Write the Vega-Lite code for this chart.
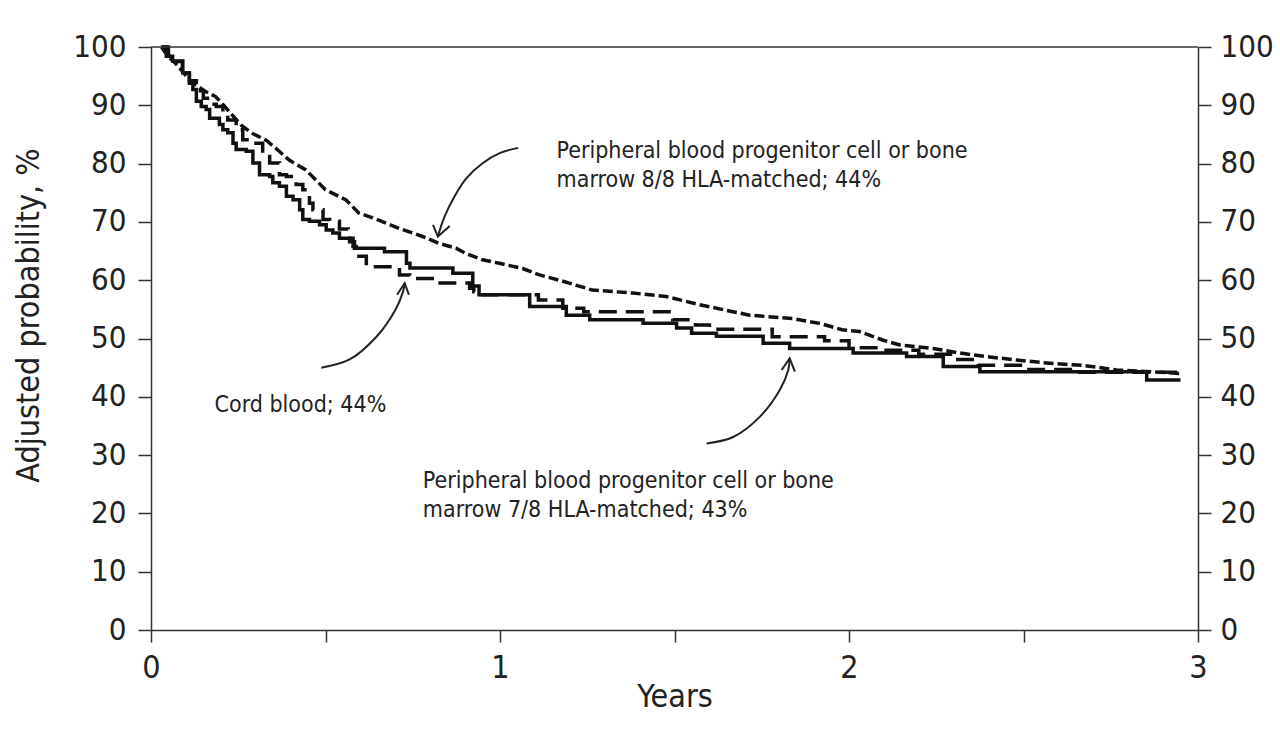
{
  "$schema": "https://vega.github.io/schema/vega-lite/v6.json",
  "width": 1047,
  "height": 583,
  "autosize": {"type": "none"},
  "padding": {"left": 151, "top": 47, "right": 82, "bottom": 112},
  "background": "white",
  "config": {
    "view": {"stroke": null},
    "font": "Liberation Sans Narrow, DejaVu Sans Condensed, Arial Narrow, sans-serif",
    "axis": {
      "grid": false,
      "domainColor": "#333",
      "domainWidth": 1.5,
      "tickColor": "#333",
      "tickWidth": 1.5,
      "labelColor": "#222",
      "labelFontSize": 31,
      "titleColor": "#222",
      "titleFontWeight": "normal",
      "labelOverlap": false,
      "labelFlush": false
    }
  },
  "datasets": {
    "s78": [
      {"t": 0.03, "p": 100}, {"t": 0.044, "p": 98.4}, {"t": 0.062, "p": 97.6}, {"t": 0.091, "p": 95.6},
      {"t": 0.11, "p": 93.8}, {"t": 0.12, "p": 92.7}, {"t": 0.13, "p": 90.7}, {"t": 0.144, "p": 89.8},
      {"t": 0.158, "p": 89.3}, {"t": 0.168, "p": 87.8}, {"t": 0.196, "p": 86.7}, {"t": 0.206, "p": 85.8},
      {"t": 0.22, "p": 85.3}, {"t": 0.235, "p": 83.5}, {"t": 0.244, "p": 82.4}, {"t": 0.273, "p": 82.1},
      {"t": 0.292, "p": 80.1}, {"t": 0.311, "p": 78.1}, {"t": 0.34, "p": 77.8}, {"t": 0.349, "p": 76.7},
      {"t": 0.368, "p": 76.1}, {"t": 0.388, "p": 74.4}, {"t": 0.407, "p": 73.8}, {"t": 0.426, "p": 72.1},
      {"t": 0.435, "p": 70.4}, {"t": 0.454, "p": 70.1}, {"t": 0.483, "p": 69.5}, {"t": 0.502, "p": 68.6},
      {"t": 0.521, "p": 68.1}, {"t": 0.54, "p": 67.2}, {"t": 0.569, "p": 66.6}, {"t": 0.583, "p": 65.5},
      {"t": 0.669, "p": 64.9}, {"t": 0.732, "p": 62.9}, {"t": 0.742, "p": 62.1}, {"t": 0.865, "p": 61.2},
      {"t": 0.922, "p": 59.0}, {"t": 0.94, "p": 57.5}, {"t": 1.085, "p": 55.5}, {"t": 1.19, "p": 54.0},
      {"t": 1.257, "p": 53.2}, {"t": 1.41, "p": 52.6}, {"t": 1.506, "p": 51.8}, {"t": 1.549, "p": 50.9},
      {"t": 1.62, "p": 50.4}, {"t": 1.754, "p": 49.2}, {"t": 1.83, "p": 48.3}, {"t": 2.012, "p": 47.5},
      {"t": 2.165, "p": 46.9}, {"t": 2.27, "p": 45.2}, {"t": 2.375, "p": 44.3}, {"t": 2.853, "p": 42.9},
      {"t": 2.95, "p": 42.9}
    ],
    "cord": [
      {"t": 0.03, "p": 100}, {"t": 0.05, "p": 98.5}, {"t": 0.07, "p": 97.5}, {"t": 0.09, "p": 95.8},
      {"t": 0.11, "p": 94.2}, {"t": 0.13, "p": 92.5}, {"t": 0.15, "p": 91.2}, {"t": 0.17, "p": 90.2},
      {"t": 0.187, "p": 89.8}, {"t": 0.206, "p": 88.4}, {"t": 0.22, "p": 87.5}, {"t": 0.244, "p": 85.8},
      {"t": 0.263, "p": 84.1}, {"t": 0.292, "p": 83.5}, {"t": 0.32, "p": 81.2}, {"t": 0.34, "p": 80.1},
      {"t": 0.368, "p": 78.1}, {"t": 0.388, "p": 77.8}, {"t": 0.416, "p": 76.4}, {"t": 0.435, "p": 75.5},
      {"t": 0.454, "p": 73.2}, {"t": 0.464, "p": 72.1}, {"t": 0.493, "p": 70.4}, {"t": 0.512, "p": 70.1},
      {"t": 0.54, "p": 68.8}, {"t": 0.565, "p": 67.2}, {"t": 0.579, "p": 65.8}, {"t": 0.588, "p": 64.1},
      {"t": 0.617, "p": 62.3}, {"t": 0.693, "p": 61.8}, {"t": 0.712, "p": 60.9}, {"t": 0.741, "p": 60.3},
      {"t": 0.818, "p": 59.5}, {"t": 0.913, "p": 58.6}, {"t": 0.925, "p": 58.0}, {"t": 0.95, "p": 57.5},
      {"t": 1.11, "p": 56.6}, {"t": 1.18, "p": 55.2}, {"t": 1.24, "p": 54.6}, {"t": 1.495, "p": 53.2},
      {"t": 1.56, "p": 52.3}, {"t": 1.6, "p": 51.6}, {"t": 1.78, "p": 50.3}, {"t": 1.93, "p": 49.6},
      {"t": 2.0, "p": 48.4}, {"t": 2.1, "p": 48.0}, {"t": 2.2, "p": 47.3}, {"t": 2.3, "p": 46.4},
      {"t": 2.37, "p": 45.4}, {"t": 2.5, "p": 44.7}, {"t": 2.65, "p": 44.2}, {"t": 2.95, "p": 44.0}
    ],
    "s88": [
      {"t": 0.03, "p": 100}, {"t": 0.05, "p": 98.3}, {"t": 0.07, "p": 97.2}, {"t": 0.09, "p": 95.8},
      {"t": 0.11, "p": 94.4}, {"t": 0.128, "p": 93.5}, {"t": 0.155, "p": 92.4}, {"t": 0.185, "p": 91.5},
      {"t": 0.21, "p": 89.9}, {"t": 0.233, "p": 88.3}, {"t": 0.26, "p": 86.5}, {"t": 0.29, "p": 85.2},
      {"t": 0.33, "p": 84.0}, {"t": 0.36, "p": 82.5}, {"t": 0.396, "p": 80.6}, {"t": 0.444, "p": 78.9},
      {"t": 0.5, "p": 75.5}, {"t": 0.558, "p": 73.8}, {"t": 0.596, "p": 71.5}, {"t": 0.635, "p": 70.7},
      {"t": 0.711, "p": 68.9}, {"t": 0.778, "p": 67.5}, {"t": 0.826, "p": 66.3}, {"t": 0.874, "p": 65.5},
      {"t": 0.902, "p": 64.6}, {"t": 0.95, "p": 63.5}, {"t": 0.998, "p": 62.9}, {"t": 1.065, "p": 62.0},
      {"t": 1.113, "p": 60.9}, {"t": 1.17, "p": 60.0}, {"t": 1.265, "p": 58.3}, {"t": 1.38, "p": 57.8},
      {"t": 1.476, "p": 57.2}, {"t": 1.572, "p": 55.8}, {"t": 1.667, "p": 54.6}, {"t": 1.715, "p": 54.0},
      {"t": 1.84, "p": 53.4}, {"t": 1.916, "p": 52.6}, {"t": 1.98, "p": 51.5}, {"t": 2.03, "p": 51.2},
      {"t": 2.098, "p": 49.7}, {"t": 2.146, "p": 48.9}, {"t": 2.24, "p": 48.3}, {"t": 2.318, "p": 47.5},
      {"t": 2.394, "p": 46.9}, {"t": 2.48, "p": 46.3}, {"t": 2.585, "p": 45.7}, {"t": 2.67, "p": 45.4},
      {"t": 2.767, "p": 44.6}, {"t": 2.863, "p": 44.3}, {"t": 2.949, "p": 44.0}
    ],
    "arrows": [
      {"id": "a1", "o": 1, "t": 1.052, "p": 82.7}, {"id": "a1", "o": 2, "t": 0.999, "p": 81.8},
      {"id": "a1", "o": 3, "t": 0.951, "p": 80.1}, {"id": "a1", "o": 4, "t": 0.904, "p": 77.5},
      {"id": "a1", "o": 5, "t": 0.87, "p": 74.4}, {"id": "a1", "o": 6, "t": 0.841, "p": 70.9},
      {"id": "a1", "o": 7, "t": 0.822, "p": 67.5},
      {"id": "a2", "o": 1, "t": 0.488, "p": 45.0}, {"id": "a2", "o": 2, "t": 0.569, "p": 46.4},
      {"id": "a2", "o": 3, "t": 0.646, "p": 50.3}, {"id": "a2", "o": 4, "t": 0.7, "p": 54.9},
      {"id": "a2", "o": 5, "t": 0.722, "p": 58.0}, {"id": "a2", "o": 6, "t": 0.727, "p": 59.5},
      {"id": "a3", "o": 1, "t": 1.592, "p": 32.0}, {"id": "a3", "o": 2, "t": 1.668, "p": 33.1},
      {"id": "a3", "o": 3, "t": 1.745, "p": 36.6}, {"id": "a3", "o": 4, "t": 1.802, "p": 41.2},
      {"id": "a3", "o": 5, "t": 1.826, "p": 44.6}, {"id": "a3", "o": 6, "t": 1.83, "p": 46.6}
    ],
    "heads": [
      {"id": "h1", "o": 1, "t": 0.808, "p": 69.5}, {"id": "h1", "o": 2, "t": 0.822, "p": 67.5}, {"id": "h1", "o": 3, "t": 0.856, "p": 69.3},
      {"id": "h2", "o": 1, "t": 0.705, "p": 57.5}, {"id": "h2", "o": 2, "t": 0.727, "p": 59.5}, {"id": "h2", "o": 3, "t": 0.739, "p": 57.5},
      {"id": "h3", "o": 1, "t": 1.807, "p": 44.6}, {"id": "h3", "o": 2, "t": 1.83, "p": 46.6}, {"id": "h3", "o": 3, "t": 1.845, "p": 44.3}
    ],
    "labels": [
      {"t": 1.162, "p": 81.0, "text": "Peripheral blood progenitor cell or bone\nmarrow 8/8 HLA-matched; 44%"},
      {"t": 0.182, "p": 37.4, "text": "Cord blood; 44%"},
      {"t": 0.779, "p": 24.3, "text": "Peripheral blood progenitor cell or bone\nmarrow 7/8 HLA-matched; 43%"}
    ]
  },
  "layer": [
    {
      "layer": [
        {
          "data": {"name": "s78"},
          "mark": {"type": "line", "interpolate": "step-after", "color": "#111", "strokeWidth": 3.5},
          "encoding": {
            "x": {
              "field": "t", "type": "quantitative", "title": "Years",
              "scale": {"domain": [0, 3], "nice": false},
              "axis": {
                "values": [0, 0.5, 1, 1.5, 2, 2.5, 3],
                "labelExpr": "datum.value % 1 === 0 ? format(datum.value, 'd') : ''",
                "tickSize": 12, "labelPadding": 10, "labelFontSize": 32,
                "titleFontSize": 32, "titlePadding": -2
              }
            },
            "y": {
              "field": "p", "type": "quantitative", "title": "Adjusted probability, %",
              "scale": {"domain": [0, 100], "nice": false},
              "axis": {
                "values": [0, 10, 20, 30, 40, 50, 60, 70, 80, 90, 100],
                "tickSize": 13, "labelPadding": 12,
                "titleFontSize": 32, "titlePadding": 27, "titleY": 268
              }
            }
          }
        },
        {
          "data": {"name": "cord"},
          "mark": {"type": "line", "interpolate": "step-after", "color": "#111", "strokeWidth": 3.5, "strokeDash": [18, 9]},
          "encoding": {
            "x": {"field": "t", "type": "quantitative"},
            "y": {"field": "p", "type": "quantitative"}
          }
        },
        {
          "data": {"name": "s88"},
          "mark": {"type": "line", "color": "#111", "strokeWidth": 3.5, "strokeDash": [10, 4]},
          "encoding": {
            "x": {"field": "t", "type": "quantitative"},
            "y": {"field": "p", "type": "quantitative"}
          }
        },
        {
          "data": {"name": "arrows"},
          "mark": {"type": "line", "interpolate": "catmull-rom", "color": "#222", "strokeWidth": 2},
          "encoding": {
            "x": {"field": "t", "type": "quantitative"},
            "y": {"field": "p", "type": "quantitative"},
            "detail": {"field": "id"},
            "order": {"field": "o", "type": "quantitative"}
          }
        },
        {
          "data": {"name": "heads"},
          "mark": {"type": "line", "color": "#222", "strokeWidth": 2},
          "encoding": {
            "x": {"field": "t", "type": "quantitative"},
            "y": {"field": "p", "type": "quantitative"},
            "detail": {"field": "id"},
            "order": {"field": "o", "type": "quantitative"}
          }
        },
        {
          "data": {"name": "labels"},
          "mark": {"type": "text", "align": "left", "baseline": "alphabetic", "fontSize": 23, "lineHeight": 29, "lineBreak": "\n", "color": "#222"},
          "encoding": {
            "x": {"field": "t", "type": "quantitative"},
            "y": {"field": "p", "type": "quantitative"},
            "text": {"field": "text"}
          }
        }
      ]
    },
    {
      "data": {"values": [{}]},
      "mark": {"type": "rule", "color": "#333", "strokeWidth": 1.5},
      "encoding": {
        "y": {
          "datum": 100, "type": "quantitative",
          "scale": {"domain": [0, 100], "nice": false},
          "axis": {
            "orient": "right", "title": null,
            "values": [0, 10, 20, 30, 40, 50, 60, 70, 80, 90, 100],
            "tickSize": 13, "labelPadding": 9
          }
        }
      }
    }
  ],
  "resolve": {"scale": {"y": "independent"}}
}
